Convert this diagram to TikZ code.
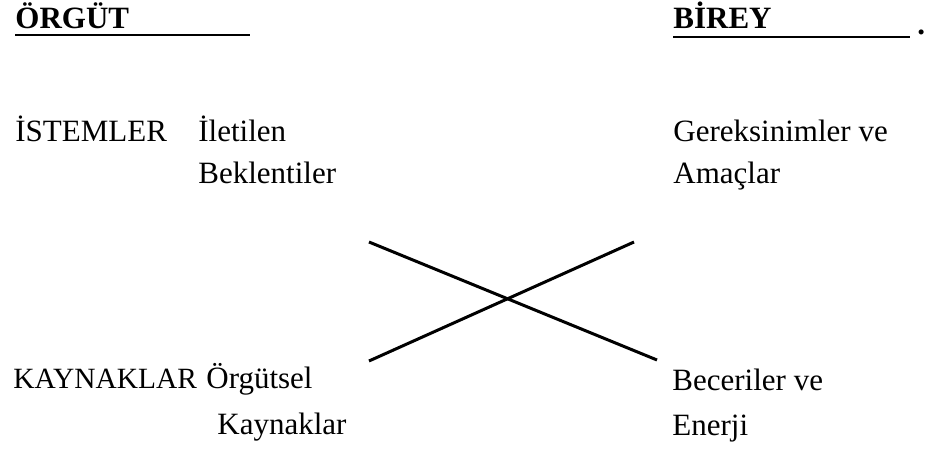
\documentclass[tikz,border=0pt]{standalone}
\usepackage{fontspec}
\setmainfont{Liberation Serif}

\begin{document}
\begin{tikzpicture} [x=0.5pt, y=-0.5pt,
                     every node/.style = {anchor=base west, inner sep=0pt, font=\fontsize{15.5}{18}\selectfont},
                     head/.style = {font=\fontsize{15.5}{18}\selectfont\bfseries}]

            \useasboundingbox (0, 0) rectangle (925, 459);

            \node[head] (ORG) at ( 15,  29) {ÖRGÜT};
            \node[head] (BIR) at (673,  29) {BİREY};
            \node[head] (DOT) at (917,  35) {.};

            \node (IST) at ( 15, 142) {İSTEMLER};
            \node (ILE) at (198, 142) {İletilen};
            \node (BEK) at (198, 184) {Beklentiler};
            \node (GER) at (673, 142) {Gereksinimler ve};
            \node (AMA) at (673, 184) {Amaçlar};

            \node[font=\fontsize{14.7}{18}\selectfont] (KAY) at (13, 388) {KAYNAKLAR};
            \node (ORS) at (206, 388) {Örgütsel};
            \node (KYN) at (217, 434) {Kaynaklar};
            \node (BEC) at (672, 390) {Beceriler ve};
            \node (ENE) at (672, 435) {Enerji};

            \coordinate (U1) at (250, 35);
            \coordinate (U2) at (910, 37);
            \coordinate (A) at (369, 242);
            \coordinate (B) at (634, 242);
            \coordinate (C) at (369, 361);
            \coordinate (D) at (657, 360);

            \draw[line width=1.2pt] (ORG.base west) ++(0, 6) -- (U1);
            \draw[line width=1.2pt] (BIR.base west) ++(0, 8) -- (U2);
            \draw[line width=1.5pt] (A) -- (D);
            \draw[line width=1.5pt] (C) -- (B);
        \end{tikzpicture}
\end{document}
